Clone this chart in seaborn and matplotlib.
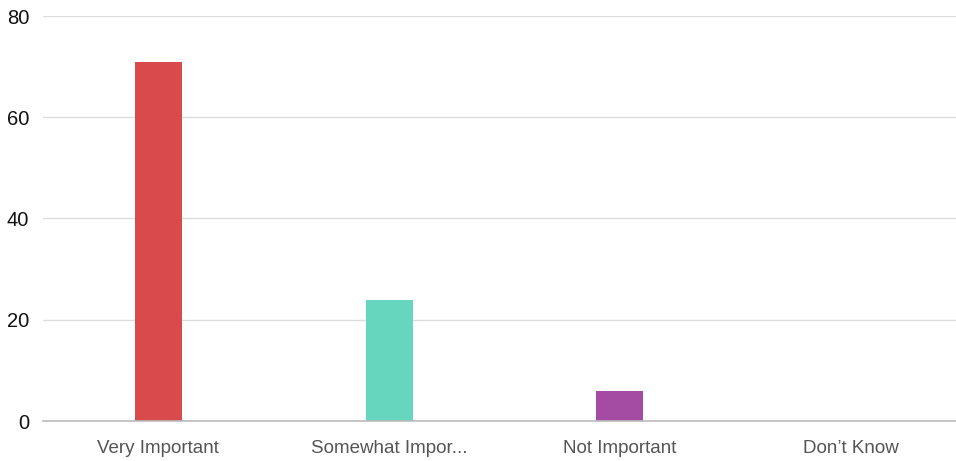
import matplotlib
matplotlib.use("Agg")
import matplotlib.pyplot as plt
import seaborn as sns
import pandas as pd

categories = ["Very Important", "Somewhat Impor...", "Not Important", "Don\u2019t Know"]
values = [71, 24, 6, 0]
colors = ["#d84a4c", "#66d7be", "#a44ca4", "#d8c9a0"]

df = pd.DataFrame({"category": categories, "value": values})

sns.set_style("white")
plt.rcParams["font.family"] = ["Liberation Sans", "DejaVu Sans"]

fig = plt.figure(figsize=(9.56, 4.61), dpi=100)
ax = fig.add_axes([43 / 956, 40 / 461, 913 / 956, 405 / 461])

sns.barplot(data=df, x="category", y="value", hue="category", palette=colors,
            width=0.204, legend=False, ax=ax, zorder=3, saturation=1, linewidth=0)

ax.set_ylim(0, 80)
ax.set_xlim(-0.5, 3.457)
ax.set_yticks([0, 20, 40, 60, 80])
ax.yaxis.grid(True, color="#dddddd", linewidth=1, zorder=0)
ax.set_xlabel("")
ax.set_ylabel("")
for s in ["top", "right", "left"]:
    ax.spines[s].set_visible(False)
ax.spines["bottom"].set_color("#bbbbbb")
ax.spines["bottom"].set_linewidth(1.2)
ax.spines["bottom"].set_zorder(4)
ax.tick_params(axis="y", length=0, labelsize=14.5, labelcolor="#111111", pad=10)
ax.tick_params(axis="x", length=4, width=1, color="#555555", labelsize=13.5,
               labelcolor="#555555", pad=9.5, direction="out")

fig.savefig("out.png", dpi=100)
